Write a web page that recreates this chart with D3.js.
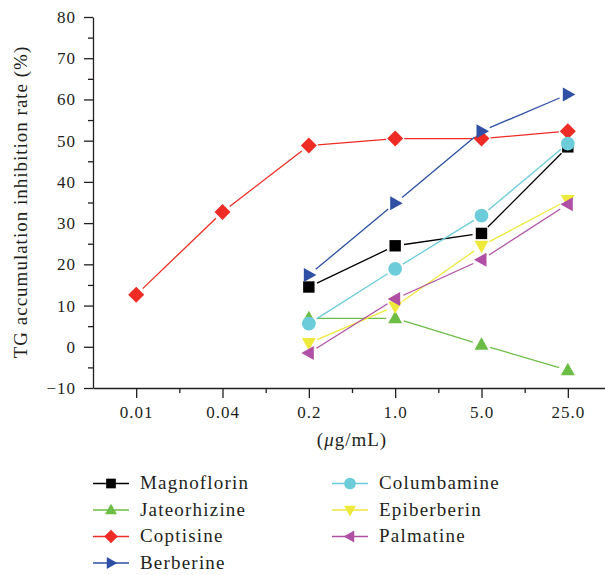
<!DOCTYPE html>
<html>
<head>
<meta charset="utf-8">
<script src="https://cdn.jsdelivr.net/npm/d3@7"></script>
<style>
  body { margin: 0; background: #fff; }
  svg text { font-family: "Liberation Serif", "DejaVu Serif", serif; fill: #231f20; }
</style>
</head>
<body>
<div id="chart"></div>
<script>
// data
const doses = ["0.01", "0.04", "0.2", "1.0", "5.0", "25.0"];
const seriesNames = ["Magnoflorin", "Jateorhizine", "Coptisine", "Berberine", "Columbamine", "Epiberberin", "Palmatine"];
const magnoflorin  = [null, null, 14.5, 24.5, 27.5, 48.5];
const jateorhizine = [null, null, 6.9, 6.9, 0.5, -5.7];
const coptisine    = [12.6, 32.7, 48.8, 50.5, 50.5, 52.3];
const berberine    = [null, null, 17.4, 34.8, 52.3, 61.2];
const columbamine  = [null, null, 5.6, 18.9, 31.8, 49.3];
const epiberberin  = [null, null, 0.9, 9.8, 24.5, 35.6];
const palmatine    = [null, null, -1.5, 11.6, 21.1, 34.6];
const yTicks = [-10, 0, 10, 20, 30, 40, 50, 60, 70, 80];

const seriesValues = [magnoflorin, jateorhizine, coptisine, berberine, columbamine, epiberberin, palmatine];
const colors = ["#000000", "#6cbd45", "#ee2b24", "#2e4fa3", "#6dccd9", "#eee93a", "#b050a5"];
const shapes = ["square", "triUp", "diamond", "triRight", "circle", "triDown", "triLeft"];

const W = 605, H = 575;
const svg = d3.select("#chart").append("svg").attr("width", W).attr("height", H);

const x = d3.scalePoint().domain(doses).range([93, 611]).padding(0.5);
const xi = d3.scaleLinear().domain([-0.5, 5.5]).range([93, 611]);
const y = d3.scaleLinear().domain([-10, 80]).range([388, 17]);

// marker path, centred on 0,0 (k scales it)
function markerPath(shape, k) {
  const s = 5.7 * k;
  switch (shape) {
    case "square":  return `M${-s},${-s}H${s}V${s}H${-s}Z`;
    case "diamond": { const d = 8 * k; return `M0,${-d}L${d},0L0,${d}L${-d},0Z`; }
    case "circle":  { const r = 6.9 * k; return `M${r},0A${r},${r} 0 1,1 ${-r},0A${r},${r} 0 1,1 ${r},0Z`; }
    case "triUp":   return `M0,${-7.5 * k}L${7 * k},${5 * k}L${-7 * k},${5 * k}Z`;
    case "triDown": return `M0,${7.5 * k}L${7 * k},${-5 * k}L${-7 * k},${-5 * k}Z`;
    case "triRight":return `M${7.5 * k},0L${-5 * k},${7 * k}L${-5 * k},${-7 * k}Z`;
    case "triLeft": return `M${-7.5 * k},0L${5 * k},${7 * k}L${5 * k},${-7 * k}Z`;
  }
}

// axes
svg.append("g").attr("transform", "translate(93,0)")
  .call(d3.axisLeft(y).tickValues(yTicks).tickSize(9).tickSizeOuter(0).tickPadding(8)
    .tickFormat(d => d < 0 ? "\u2212" + Math.abs(d) : d));
svg.append("g").attr("transform", "translate(93,0)")
  .call(d3.axisLeft(y).tickValues(d3.range(-5, 80, 10)).tickSize(5).tickFormat(""))
  .select(".domain").remove();

svg.append("g").attr("transform", `translate(0,${y(-10)})`)
  .call(d3.axisBottom(x).tickSize(10).tickSizeOuter(0).tickPadding(8));
svg.append("g").attr("transform", `translate(0,${y(-10)})`)
  .call(d3.axisBottom(xi).tickValues(d3.range(0.5, 5.5, 1)).tickSize(5).tickFormat(""))
  .select(".domain").remove();

svg.selectAll(".domain, .tick line").attr("stroke", "#231f20").attr("stroke-width", 1.3);
svg.selectAll(".tick text").style("font-size", "17px").style("letter-spacing", "1px").attr("fill", "#231f20");

const xTitle = svg.append("text").attr("x", 352).attr("y", 446).attr("text-anchor", "middle")
  .style("font-size", "19px").style("letter-spacing", "1px");
xTitle.append("tspan").text("(");
xTitle.append("tspan").style("font-style", "italic").text("\u03bc");
xTitle.append("tspan").text("g/mL)");
svg.append("text").attr("transform", "translate(27,202) rotate(-90)").attr("text-anchor", "middle")
  .style("font-size", "19px").style("letter-spacing", "1px")
  .text("TG accumulation inhibition rate (%)");

// series
const plot = svg.append("g");
seriesValues.forEach((vals, k) => {
  const pts = doses.map((d, i) => ({ d, v: vals[i] })).filter(p => p.v !== null)
    .map(p => [x(p.d), y(p.v)]);
  const g = plot.append("g");
  const gap = 9;
  for (let i = 0; i < pts.length - 1; i++) {
    const [x0, y0] = pts[i], [x1, y1] = pts[i + 1];
    const len = Math.hypot(x1 - x0, y1 - y0);
    if (len <= 2 * gap) continue;
    const ux = (x1 - x0) / len, uy = (y1 - y0) / len;
    g.append("line")
      .attr("x1", x0 + ux * gap).attr("y1", y0 + uy * gap)
      .attr("x2", x1 - ux * gap).attr("y2", y1 - uy * gap)
      .attr("stroke", colors[k]).attr("stroke-width", 1.3);
  }
  g.selectAll("path").data(pts).enter().append("path")
    .attr("transform", p => `translate(${p[0]},${p[1]})`)
    .attr("d", markerPath(shapes[k], 1))
    .attr("fill", colors[k]);
});

// legend
const legend = svg.append("g");
seriesNames.forEach((name, k) => {
  const col = k < 4 ? 0 : 1;
  const row = k < 4 ? k : k - 4;
  const lx = col === 0 ? 93 : 332;
  const ly = 483.5 + row * 26.5;
  const g = legend.append("g").attr("transform", `translate(${lx},${ly})`);
  g.append("line").attr("x1", 0).attr("x2", 36).attr("y1", 0).attr("y2", 0)
    .attr("stroke", colors[k]).attr("stroke-width", 1.3);
  g.append("path").attr("transform", "translate(18,0)")
    .attr("d", markerPath(shapes[k], 0.85)).attr("fill", colors[k]);
  g.append("text").attr("x", 47).attr("y", 5.5)
    .style("font-size", "19px").style("letter-spacing", "1.2px").text(name);
});
</script>
</body>
</html>
